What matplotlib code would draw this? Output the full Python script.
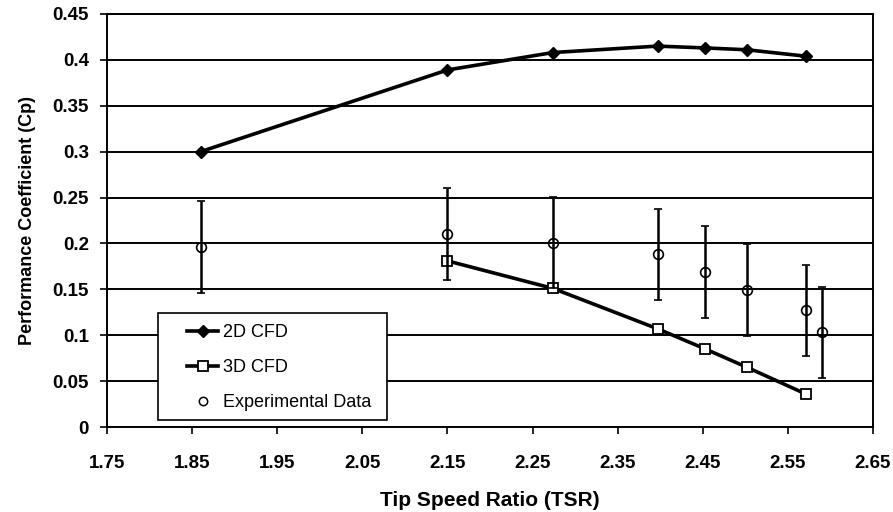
import matplotlib
matplotlib.use("Agg")
import matplotlib.pyplot as plt
from matplotlib.lines import Line2D
from matplotlib.patches import Rectangle

# -----------------------
# Data
# -----------------------
tsr_2d = [1.86, 2.15, 2.274, 2.397, 2.453, 2.502, 2.571]
cp_2d = [0.300, 0.389, 0.408, 0.415, 0.413, 0.411, 0.404]

tsr_3d = [2.15, 2.274, 2.397, 2.453, 2.502, 2.571]
cp_3d = [0.181, 0.151, 0.107, 0.085, 0.065, 0.036]

tsr_exp = [1.86, 2.15, 2.274, 2.397, 2.453, 2.502, 2.571, 2.590]
cp_exp = [0.196, 0.210, 0.201, 0.188, 0.169, 0.149, 0.127, 0.103]
cp_err = [0.05, 0.05, 0.05, 0.05, 0.05, 0.05, 0.05, 0.05]

x_ticks = [1.75, 1.85, 1.95, 2.05, 2.15, 2.25, 2.35, 2.45, 2.55, 2.65]
y_ticks = [0, 0.05, 0.1, 0.15, 0.2, 0.25, 0.3, 0.35, 0.4, 0.45]
y_labels = ["0", "0.05", "0.1", "0.15", "0.2", "0.25", "0.3", "0.35", "0.4", "0.45"]

# -----------------------
# Figure
# -----------------------
plt.rcParams["font.family"] = ["Liberation Sans", "DejaVu Sans"]

fig = plt.figure(figsize=(8.93, 5.12), dpi=100)
ax = fig.add_axes([0.1198, 0.166, 0.8578, 0.8067])

for y in y_ticks[1:]:
    ax.axhline(y, color="black", lw=1.4, zorder=1)

ax.plot(tsr_2d, cp_2d, color="black", lw=2.6, marker="D", ms=6,
        mfc="black", mec="black", zorder=3)
ax.plot(tsr_3d, cp_3d, color="black", lw=2.6, marker="s", ms=7,
        mfc="white", mec="black", mew=1.3, zorder=3)
ax.errorbar(tsr_exp, cp_exp, yerr=cp_err, fmt="o", ms=7, mfc="none",
            mec="black", mew=1.2, ecolor="black", elinewidth=1.8,
            capsize=3, capthick=1.8, zorder=4)

ax.set_xlim(1.75, 2.65)
ax.set_ylim(0, 0.45)
ax.set_xticks(x_ticks)
ax.set_xticklabels([f"{t:.2f}" for t in x_ticks])
ax.set_yticks(y_ticks)
ax.set_yticklabels(y_labels)

for s in ax.spines.values():
    s.set_color("black")
    s.set_linewidth(1.4)

ax.tick_params(axis="both", direction="out", length=5, width=1.2,
               labelsize=13.5, pad=8)
for lbl in ax.get_xticklabels() + ax.get_yticklabels():
    lbl.set_fontweight("bold")
ax.tick_params(axis="x", pad=15)

ax.set_xlabel("Tip Speed Ratio (TSR)", fontsize=15, fontweight="bold", labelpad=14)
ax.set_ylabel("Performance Coefficient (Cp)", fontsize=13, fontweight="bold", labelpad=12)

# legend box drawn separately so the entries can sit inset like the original
box = Rectangle((0.066, 0.017), 0.30, 0.26, transform=ax.transAxes,
                facecolor="white", edgecolor="black", lw=1.2, zorder=4.5)
ax.add_patch(box)

handles = [
    Line2D([], [], color="black", lw=2.6, marker="D", ms=6, mfc="black"),
    Line2D([], [], color="black", lw=2.6, marker="s", ms=7, mfc="white", mew=1.3),
    Line2D([], [], ls="none", marker="o", ms=6, mfc="none", mec="black", mew=1.1),
]
labels = ["2D CFD", "3D CFD", "Experimental Data"]
leg = ax.legend(handles, labels, loc="upper left",
                bbox_to_anchor=(0.093, 0.271), borderaxespad=0,
                frameon=False, fontsize=13, handlelength=1.7,
                handletextpad=0.3, labelspacing=1.0, borderpad=0.5)
leg.set_zorder(5)

fig.savefig("out.png", dpi=100)
